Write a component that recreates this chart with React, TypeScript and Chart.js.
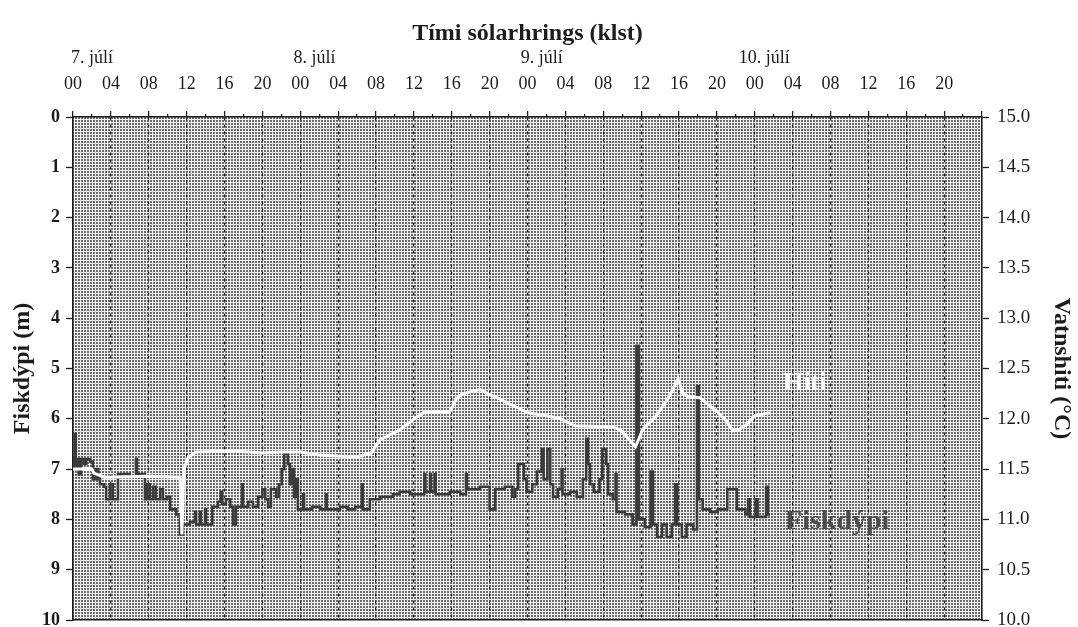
import React, { useEffect, useRef } from 'react';
import { Chart, registerables } from 'chart.js';

Chart.register(...registerables);

const SERIF = '"Liberation Serif", "Times New Roman", serif';

// Time axis (hours from 7. júlí 00:00)
const hourMin = 0;
const hourMax = 96;
const dayLabels = ['7. júlí', '8. júlí', '9. júlí', '10. júlí'];
const dayLabelHours = [2, 25.5, 49.5, 73];

// Depth axis (m) and temperature axis (°C)
const depthMin = 0;
const depthMax = 10;
const tempMin = 10;
const tempMax = 15;

const seriesNames = ['Hiti', 'Fiskdýpi'];

// Water temperature (°C)
const tempHours = [0, 2.0, 2.2, 3.3, 8, 11.3, 11.5, 11.7, 12.2, 13, 17, 20, 22, 24, 26, 28, 30, 31.5, 32.4, 34.5, 35.9, 37, 39.8, 40.5, 41, 42, 43, 44, 45, 46, 47, 48, 50, 51.5, 53, 56, 57, 57.8, 58.7, 59.4, 60.2, 61.5, 62.7, 63.3, 63.9, 64.4, 65, 66.2, 67, 68, 69, 69.7, 70.5, 71.2, 72, 73.6];
const tempValues = [11.50, 11.50, 11.46, 11.42, 11.43, 11.42, 10.85, 11.50, 11.62, 11.67, 11.68, 11.66, 11.67, 11.67, 11.64, 11.63, 11.62, 11.66, 11.79, 11.89, 11.99, 12.06, 12.07, 12.20, 12.24, 12.27, 12.29, 12.24, 12.20, 12.15, 12.11, 12.06, 12.03, 12.00, 11.93, 11.92, 11.92, 11.89, 11.80, 11.72, 11.90, 12.02, 12.18, 12.28, 12.40, 12.25, 12.22, 12.21, 12.15, 12.07, 11.98, 11.88, 11.90, 11.95, 12.03, 12.06];

// Fish depth (m)
const depthHours = [0, 0.1, 0.2, 0.3, 0.4, 0.6, 0.85, 1.15, 1.4, 1.8, 2.1, 2.4, 2.65, 2.85, 3.25, 3.5, 3.9, 4.2, 4.75, 6.0, 6.65, 6.75, 7.6, 7.8, 8.1, 8.45, 8.75, 9.2, 9.5, 9.9, 10.25, 10.9, 11.3, 11.6, 12.35, 12.9, 13.0, 13.4, 13.5, 13.95, 14.05, 14.7, 15.3, 15.6, 15.75, 16.15, 16.6, 16.9, 17.2, 17.85, 17.95, 18.5, 19.0, 19.55, 20.0, 20.3, 20.6, 20.9, 21.45, 21.75, 22.05, 22.3, 22.7, 22.9, 23.1, 23.35, 23.55, 23.75, 24.3, 24.4, 25.25, 26.1, 26.7, 26.8, 28.2, 29.0, 29.8, 30.5, 30.6, 31.35, 32.4, 33.8, 34.5, 35.6, 37.1, 37.2, 37.7, 37.8, 38.2, 38.3, 39.8, 40.9, 41.5, 41.6, 43.0, 44.0, 44.6, 45.6, 46.4, 46.7, 47.0, 47.6, 47.9, 48.5, 49.0, 49.5, 49.7, 50.1, 50.4, 50.7, 51.2, 51.6, 51.7, 52.5, 53.2, 53.85, 54.2, 54.4, 54.6, 55.0, 55.6, 55.9, 56.3, 56.5, 57.0, 57.3, 57.4, 58.3, 59.1, 59.5, 59.75, 60.4, 61.0, 61.25, 61.7, 62.2, 62.7, 63.25, 63.6, 63.8, 64.3, 64.8, 65.5, 65.9, 66.1, 66.5, 67.3, 68.1, 69.1, 70.1, 71.0, 71.3, 71.5, 72.1, 72.3, 73.2, 73.4, 73.6];
const depthValues = [7.0, 6.8, 6.3, 7.0, 6.8, 7.1, 6.8, 6.9, 6.8, 6.85, 7.2, 7.0, 7.2, 7.3, 7.35, 7.6, 7.3, 7.6, 7.1, 7.15, 6.8, 7.1, 7.6, 7.3, 7.6, 7.35, 7.6, 7.4, 7.6, 7.55, 7.8, 7.9, 8.3, 8.1, 8.05, 7.85, 8.1, 7.85, 8.1, 7.8, 8.1, 7.75, 7.65, 7.45, 7.7, 7.6, 7.75, 8.1, 7.75, 7.3, 7.75, 7.65, 7.75, 7.55, 7.4, 7.6, 7.75, 7.4, 7.55, 7.3, 7.0, 6.7, 6.9, 7.3, 7.0, 7.55, 7.2, 7.8, 7.5, 7.8, 7.75, 7.8, 7.5, 7.8, 7.75, 7.8, 7.75, 7.3, 7.8, 7.6, 7.55, 7.5, 7.45, 7.5, 7.1, 7.45, 7.1, 7.45, 7.1, 7.5, 7.45, 7.5, 7.1, 7.4, 7.35, 7.8, 7.4, 7.35, 7.55, 7.4, 6.9, 7.2, 7.45, 7.3, 7.05, 6.6, 7.2, 6.6, 7.3, 7.55, 7.4, 7.0, 7.5, 7.45, 7.55, 7.2, 6.4, 6.9, 7.3, 7.45, 7.2, 6.6, 6.9, 7.5, 7.6, 7.1, 7.85, 7.9, 8.1, 4.55, 8.0, 8.15, 7.05, 8.1, 8.35, 8.1, 8.35, 8.1, 7.3, 8.1, 8.35, 8.1, 8.2, 5.35, 7.6, 7.8, 7.85, 7.8, 7.4, 7.8, 7.9, 7.6, 7.95, 7.6, 7.95, 7.35, 7.9, 7.9];

const pad2 = (n: number) => String(n).padStart(2, '0');

const fixSize = (w?: number, h?: number) => (s: any) => {
  if (w !== undefined) s.width = w;
  if (h !== undefined) s.height = h;
  s.paddingLeft = 0;
  s.paddingRight = 0;
  s.paddingTop = 0;
  s.paddingBottom = 0;
};

const stipplePlugin = {
  id: 'stipple',
  beforeDraw(chart: any) {
    const { ctx, chartArea: a } = chart;
    const tile = document.createElement('canvas');
    tile.width = 3;
    tile.height = 3;
    const g = tile.getContext('2d')!;
    g.fillStyle = '#f2f2f2';
    g.fillRect(0, 0, 3, 3);
    g.fillStyle = '#6c6c6c';
    g.fillRect(0, 0, 2, 2);
    ctx.save();
    ctx.fillStyle = '#ffffff';
    ctx.fillRect(0, 0, chart.width, chart.height);
    ctx.fillStyle = ctx.createPattern(tile, 'repeat');
    ctx.fillRect(a.left, a.top, a.right - a.left, a.bottom - a.top);
    ctx.restore();
  },
};

const seriesLabelPlugin = {
  id: 'seriesLabels',
  afterDatasetsDraw(chart: any) {
    const { ctx, scales } = chart;
    const x = scales.x;
    const y = scales.y;
    ctx.save();
    ctx.textAlign = 'left';
    ctx.textBaseline = 'middle';
    ctx.font = `bold 26px ${SERIF}`;
    ctx.fillStyle = '#ffffff';
    ctx.fillText(seriesNames[0], x.getPixelForValue(75.0), y.getPixelForValue(5.3));
    ctx.font = `bold 28px ${SERIF}`;
    ctx.fillStyle = '#4c4c4c';
    ctx.fillText(seriesNames[1], x.getPixelForValue(75.2), y.getPixelForValue(8.05));
    ctx.restore();
  },
};

export default function App() {
  const ref = useRef<HTMLCanvasElement>(null);

  useEffect(() => {
    if (!ref.current) return;
    const tempData = tempHours.map((h, i) => ({ x: h, y: tempValues[i] }));
    const depthData = depthHours.map((h, i) => ({ x: h, y: depthValues[i] }));
    const ink = '#1c1c1c';

    const chart = new Chart(ref.current, {
      type: 'line',
      data: {
        datasets: [
          {
            label: seriesNames[0],
            data: tempData,
            xAxisID: 'x',
            yAxisID: 'y2',
            borderColor: '#ffffff',
            borderWidth: 3,
            pointRadius: 0,
            tension: 0,
          },
          {
            label: seriesNames[1],
            data: depthData,
            xAxisID: 'x',
            yAxisID: 'y',
            borderColor: '#3a3a3a',
            borderWidth: 2.6,
            pointRadius: 0,
            stepped: true,
          },
        ],
      },
      options: {
        animation: false,
        responsive: false,
        events: [],
        layout: { padding: { top: 18, left: 0, right: 0, bottom: 0 } },
        plugins: { legend: { display: false }, tooltip: { enabled: false } },
        scales: {
          x: {
            type: 'linear',
            position: 'top',
            weight: 0,
            min: hourMin,
            max: hourMax,
            afterFit: fixSize(undefined, 42),
            afterBuildTicks: (s: any) => {
              const t = [];
              for (let v = hourMin; v <= hourMax; v += 2) t.push({ value: v });
              s.ticks = t;
            },
            ticks: {
              autoSkip: false,
              maxRotation: 0,
              padding: 16,
              color: ink,
              font: { family: SERIF, size: 18 },
              callback: (v: any) => (v % 4 === 0 && v < hourMax ? pad2(v % 24) : ''),
            },
            grid: {
              drawOnChartArea: true,
              drawTicks: true,
              tickLength: 6,
              lineWidth: 1.2,
              color: (c: any) => {
                const v = c.tick ? c.tick.value : 0;
                return v % 4 === 0 && v > hourMin && v < hourMax ? '#202020' : 'rgba(0,0,0,0)';
              },
              tickColor: ink,
              tickWidth: 1.3,
              tickBorderDash: (c: any) => (c.tick && c.tick.value % 4 !== 0 ? [3, 3] : []),
              tickBorderDashOffset: (c: any) => (c.tick && c.tick.value % 4 !== 0 ? 3 : 0),
            },
            border: { display: true, color: ink, width: 1.6, dash: [3, 4] },
          },
          xd: {
            type: 'linear',
            position: 'top',
            weight: 1,
            min: hourMin,
            max: hourMax,
            afterFit: fixSize(undefined, 57),
            afterBuildTicks: (s: any) => {
              s.ticks = dayLabelHours.map((v) => ({ value: v }));
            },
            ticks: {
              autoSkip: false,
              maxRotation: 0,
              padding: 6,
              color: ink,
              font: { family: SERIF, size: 18 },
              callback: (_v: any, i: number) => dayLabels[i],
            },
            grid: { display: false, drawTicks: false },
            border: { display: false },
            title: {
              display: true,
              text: 'Tími sólarhrings (klst)',
              color: ink,
              padding: { top: 1, bottom: 0 },
              font: { family: SERIF, size: 24, weight: 'bold' },
            },
          },
          xb: {
            type: 'linear',
            position: 'bottom',
            min: hourMin,
            max: hourMax,
            afterFit: fixSize(undefined, 7),
            ticks: { display: false },
            grid: { display: false, drawTicks: false },
            border: { display: true, color: ink, width: 1.6 },
          },
          y: {
            type: 'linear',
            position: 'left',
            reverse: true,
            min: depthMin,
            max: depthMax,
            afterFit: fixSize(73, undefined),
            ticks: {
              stepSize: 1,
              padding: 6,
              color: ink,
              font: { family: SERIF, size: 18, weight: 'bold' },
            },
            grid: { drawOnChartArea: false, tickLength: 7, color: ink, tickWidth: 1.3 },
            border: { display: true, color: ink, width: 1.6 },
            title: {
              display: true,
              text: 'Fiskdýpi (m)',
              color: ink,
              padding: { top: 8, bottom: 0 },
              font: { family: SERIF, size: 24, weight: 'bold' },
            },
          },
          y2: {
            type: 'linear',
            position: 'right',
            min: tempMin,
            max: tempMax,
            afterFit: fixSize(96, undefined),
            ticks: {
              stepSize: 0.5,
              padding: 8,
              color: ink,
              font: { family: SERIF, size: 19 },
              callback: (v: any) => Number(v).toFixed(1),
            },
            grid: { drawOnChartArea: false, tickLength: 7, color: ink, tickWidth: 1.3 },
            border: { display: true, color: ink, width: 1.6 },
            title: {
              display: true,
              text: 'Vatnshiti (°C)',
              color: ink,
              padding: { top: 2, bottom: 0 },
              font: { family: SERIF, size: 24, weight: 'bold' },
            },
          },
        },
      } as any,
      plugins: [stipplePlugin, seriesLabelPlugin],
    });

    return () => chart.destroy();
  }, []);

  return (
    <div style={{ position: 'absolute', left: 0, top: 0, width: 1078, height: 627, background: '#fff' }}>
      <canvas ref={ref} width={1078} height={627} style={{ width: 1078, height: 627, display: 'block' }} />
    </div>
  );
}
